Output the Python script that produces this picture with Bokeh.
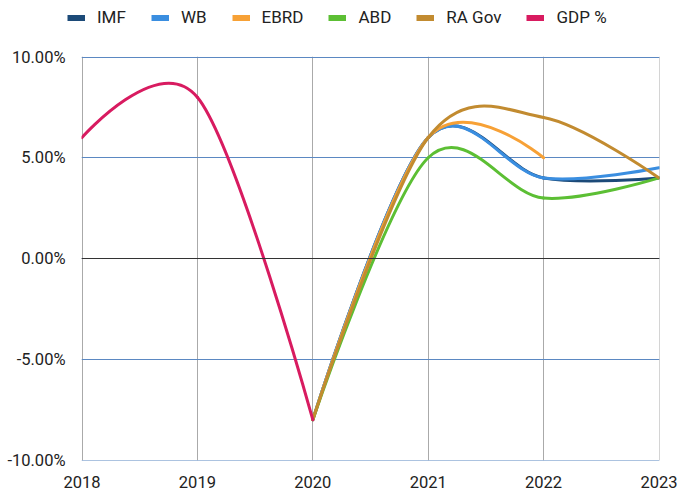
from bokeh.plotting import figure
from bokeh.layouts import column
from bokeh.models import (Range1d, FixedTicker, Span, Legend, LegendItem,
                          ColumnDataSource)
from bokeh.embed import file_html
from bokeh.resources import INLINE

# ---- data ----
years = [2018, 2019, 2020, 2021, 2022, 2023]
forecast_years = [2020, 2021, 2022, 2023]
gdp_years = [2018, 2019, 2020]

gdp = [6.0, 8.0, -8.0]
imf = [-8.0, 6.0, 4.0, 4.0]
wb = [-8.0, 6.0, 4.0, 4.5]
ebrd = [-8.0, 6.0, 5.0]
abd = [-8.0, 5.0, 3.0, 4.0]
ra_gov = [-8.0, 6.0, 7.0, 4.0]

series_names = ["IMF", "WB", "EBRD", "ABD", "RA Gov", "GDP %"]
series_colors = ["#1c4a78", "#3a8ee0", "#f7a136", "#5cbf34", "#c28b30", "#d81b60"]

y_ticks = [-10, -5, 0, 5, 10]
y_tick_labels = ["-10.00%", "-5.00%", "0.00%", "5.00%", "10.00%"]
x_tick_labels = ["2018", "2019", "2020", "2021", "2022", "2023"]

FONT = "Roboto"
TEXT_COLOR = "#222222"
FIG_W = 689
FRAME_W, FRAME_H = 578, 404


def bezier_source(xs, ys, k=1.0 / 6.0):
    """Smooth curve through the data points, built as cubic Bezier segments."""
    n = len(xs)
    d = dict(x0=[], y0=[], x1=[], y1=[], cx0=[], cy0=[], cx1=[], cy1=[])
    for i in range(n - 1):
        if i == 0:
            c0x, c0y = xs[0], ys[0]
        else:
            c0x = xs[i] + k * (xs[i + 1] - xs[i - 1])
            c0y = ys[i] + k * (ys[i + 1] - ys[i - 1])
        if i + 1 == n - 1:
            c1x, c1y = xs[n - 1], ys[n - 1]
        else:
            c1x = xs[i + 1] - k * (xs[i + 2] - xs[i])
            c1y = ys[i + 1] - k * (ys[i + 2] - ys[i])
        d["x0"].append(xs[i]); d["y0"].append(ys[i])
        d["x1"].append(xs[i + 1]); d["y1"].append(ys[i + 1])
        d["cx0"].append(c0x); d["cy0"].append(c0y)
        d["cx1"].append(c1x); d["cy1"].append(c1y)
    return ColumnDataSource(d)


all_series = [
    (forecast_years, imf),
    (forecast_years, wb),
    (forecast_years[:len(ebrd)], ebrd),
    (forecast_years, abd),
    (forecast_years, ra_gov),
    (gdp_years, gdp),
]

# half-pixel padding so the grid lines on the frame edges stay visible
x_span = years[-1] - years[0]
y_span = y_ticks[-1] - y_ticks[0]
x_pad = 0.5 * x_span / (FRAME_W - 1)
y_pad = 0.5 * y_span / (FRAME_H - 1)

# ---------------- main chart ----------------
p = figure(output_backend="svg", toolbar_location=None,
           x_range=Range1d(years[0] - x_pad, years[-1] + x_pad),
           y_range=Range1d(y_ticks[0] - y_pad, y_ticks[-1] + y_pad),
           frame_width=FRAME_W, frame_height=FRAME_H,
           min_border_left=81, min_border_right=30, min_border_top=16,
           min_border_bottom=25)
p.frame_align = False
p.outline_line_color = None
p.background_fill_color = "white"
p.border_fill_color = "white"

p.xgrid.ticker = FixedTicker(ticks=years)
p.xgrid.grid_line_color = "#aaaaaa"
p.xgrid.grid_line_width = 1
p.ygrid.ticker = FixedTicker(ticks=y_ticks)
p.ygrid.grid_line_color = "#5b88c2"
p.ygrid.grid_line_width = 1

zero = Span(location=0, dimension="width", line_color="#333333", line_width=1)
p.add_layout(zero)

for ax in (p.xaxis[0], p.yaxis[0]):
    ax.axis_line_color = None
    ax.major_tick_line_color = None
    ax.minor_tick_line_color = None
    ax.major_label_text_font = FONT
    ax.major_label_text_font_size = "16.5px"
    ax.major_label_text_color = TEXT_COLOR
p.xaxis.major_label_standoff = 9
p.yaxis.major_label_standoff = 10

p.xaxis.ticker = FixedTicker(ticks=years)
p.xaxis.major_label_overrides = {y: l for y, l in zip(years, x_tick_labels)}
p.yaxis.ticker = FixedTicker(ticks=y_ticks)
p.yaxis.major_label_overrides = {t: l for t, l in zip(y_ticks, y_tick_labels)}

for (xs, ys), color in zip(all_series, series_colors):
    src = bezier_source(xs, ys)
    p.bezier(x0="x0", y0="y0", x1="x1", y1="y1", cx0="cx0", cy0="cy0",
             cx1="cx1", cy1="cy1", source=src, line_color=color,
             line_width=3, line_cap="round")

# ---------------- legend strip ----------------
lg = figure(width=FIG_W, height=40, output_backend="svg", toolbar_location=None,
            x_axis_location=None, y_axis_location=None,
            min_border=0, x_range=Range1d(0, 1), y_range=Range1d(0, 1))
lg.frame_align = False
lg.outline_line_color = None
lg.grid.visible = False
lg.border_fill_color = "white"
lg.background_fill_color = "white"

items = []
for (xs, ys), name, color in zip(all_series, series_names, series_colors):
    # swatch renderer (its data lie outside this strip's ranges, so only the
    # legend sample is visible)
    swatch = lg.line(x=xs, y=ys, line_color=color, line_width=6)
    items.append(LegendItem(label=name, renderers=[swatch]))

legend = Legend(items=items, orientation="horizontal", location=(67, 13),
                glyph_width=18, glyph_height=19, label_height=19,
                label_standoff=12, spacing=25, padding=0, margin=0,
                border_line_color=None, background_fill_alpha=0,
                label_text_font=FONT, label_text_font_size="17px",
                label_text_color=TEXT_COLOR)
lg.add_layout(legend, "center")

layout = column(lg, p, spacing=0)
open("out.html", "w").write(file_html(layout, INLINE))
